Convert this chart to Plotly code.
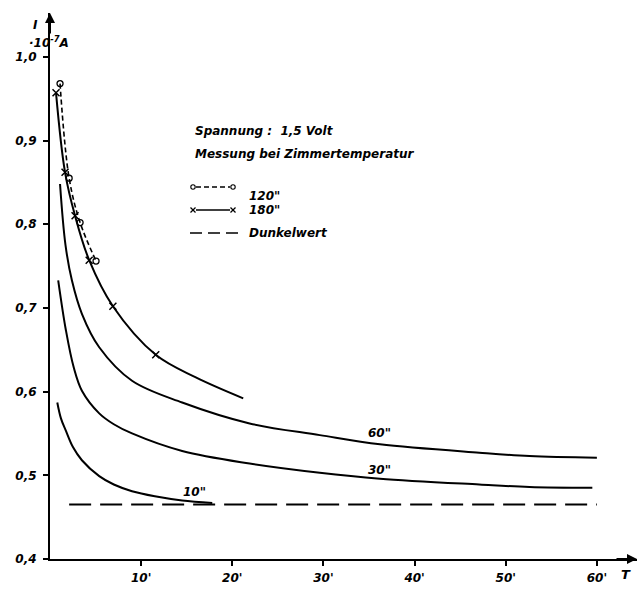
import plotly.graph_objects as go

# ---- data (T in minutes, I in 1e-7 A) ----
T_10 = [0.8, 1.2, 1.75, 2.5, 3.5, 5.4, 7.0, 9.0, 11.5, 14.5, 17.8]
I_10 = [0.587, 0.568, 0.553, 0.534, 0.518, 0.499, 0.489, 0.481, 0.475, 0.470, 0.467]

T_30 = [0.9, 1.75, 2.6, 3.5, 5.4, 7.0, 9.0, 14.5, 21.9, 29.6, 36.2, 47.1, 52.6, 59.5]
I_30 = [0.733, 0.673, 0.629, 0.601, 0.574, 0.561, 0.550, 0.529, 0.514, 0.503, 0.496, 0.489, 0.486, 0.485]

T_60 = [1.1, 1.7, 2.4, 3.5, 5.4, 9.0, 14.5, 21.9, 29.6, 36.2, 47.1, 52.6, 60.0]
I_60 = [0.848, 0.775, 0.733, 0.693, 0.653, 0.613, 0.587, 0.562, 0.548, 0.537, 0.527, 0.523, 0.521]

T_180 = [0.66, 1.65, 2.75, 4.3, 6.9, 11.6, 16.0, 21.2]
I_180 = [0.957, 0.862, 0.810, 0.757, 0.702, 0.644, 0.617, 0.592]
T_180_pts = [0.66, 1.65, 2.75, 4.3, 6.9, 11.6]
I_180_pts = [0.957, 0.862, 0.810, 0.757, 0.702, 0.644]

T_120 = [1.1, 2.1, 3.3, 5.05]
I_120 = [0.968, 0.855, 0.802, 0.756]

T_dark = [2.1, 60.0]
I_dark = [0.465, 0.465]

curve_labels = ['10"', '30"', '60"']
label_T = [15.9, 36.1, 36.2]
label_I = [0.480, 0.506, 0.551]

x_ticks = [10, 20, 30, 40, 50, 60]
x_ticktext = ["10'", "20'", "30'", "40'", "50'", "60'"]
y_ticks = [0.4, 0.5, 0.6, 0.7, 0.8, 0.9, 1.0]
y_ticktext = ["0,4", "0,5", "0,6", "0,7", "0,8", "0,9", "1,0"]

FONT = "DejaVu Sans"
W, H = 639, 589
L, R, T, B = 50, 2, 13, 30
PW, PH = W - L - R, H - T - B


def px(xp):
    return (xp - L) / PW


def py(yp):
    return (H - B - yp) / PH


def it(s):
    return "<b><i>" + s + "</i></b>"


fig = go.Figure()

line_style = dict(color="black", width=2, shape="spline", smoothing=1.0)
for tx, iy in [(T_10, I_10), (T_30, I_30), (T_60, I_60)]:
    fig.add_trace(go.Scatter(x=tx, y=iy, mode="lines", line=line_style,
                             hoverinfo="skip", showlegend=False))

fig.add_trace(go.Scatter(x=T_180, y=I_180, mode="lines", line=line_style,
                         hoverinfo="skip", showlegend=False))
fig.add_trace(go.Scatter(x=T_180_pts, y=I_180_pts, mode="markers",
                         marker=dict(symbol="x-thin", size=7, line=dict(color="black", width=1.5)),
                         hoverinfo="skip", showlegend=False))
fig.add_trace(go.Scatter(x=T_120, y=I_120, mode="lines+markers",
                         line=dict(color="black", width=1.6, dash="5px,3px", shape="spline"),
                         marker=dict(symbol="circle-open", size=6, color="black", line=dict(width=1.3)),
                         hoverinfo="skip", showlegend=False))
fig.add_trace(go.Scatter(x=T_dark, y=I_dark, mode="lines",
                         line=dict(color="black", width=2, dash="22px,9px"),
                         hoverinfo="skip", showlegend=False))

tfont = dict(family=FONT, size=12, color="black")
for txt, xx, yy in zip(curve_labels, label_T, label_I):
    fig.add_annotation(x=xx, y=yy, text=it(txt), showarrow=False, font=tfont)

# text block
fig.add_annotation(x=px(193), y=py(122), xref="paper", yref="paper", xanchor="left",
                   text=it("Spannung :  1,5 Volt"), showarrow=False, font=tfont)
fig.add_annotation(x=px(193), y=py(145), xref="paper", yref="paper", xanchor="left",
                   text=it("Messung bei Zimmertemperatur"), showarrow=False, font=tfont)

# legend (drawn by hand)
leg_rows = [(187, '120"'), (210, '180"'), (233, "Dunkelwert")]
for yy, txt in leg_rows:
    fig.add_annotation(x=px(247), y=py(yy), xref="paper", yref="paper", xanchor="left",
                       text=it(txt), showarrow=False, font=tfont)

shapes = []
y1 = py(187)
shapes.append(dict(type="line", xref="paper", yref="paper", x0=px(196), x1=px(230), y0=y1, y1=y1,
                   line=dict(color="black", width=1.3, dash="5px,3px")))
for cx in (193, 233):
    shapes.append(dict(type="circle", xref="paper", yref="paper",
                       x0=px(cx - 2.2), x1=px(cx + 2.2), y0=py(187 + 2.2), y1=py(187 - 2.2),
                       line=dict(color="black", width=1.1)))
y2 = py(210)
shapes.append(dict(type="line", xref="paper", yref="paper", x0=px(196), x1=px(230), y0=y2, y1=y2,
                   line=dict(color="black", width=1.3)))
for cx in (193, 233):
    for d in (1, -1):
        shapes.append(dict(type="line", xref="paper", yref="paper",
                           x0=px(cx - 2.5), x1=px(cx + 2.5), y0=py(210 - 2.5 * d), y1=py(210 + 2.5 * d),
                           line=dict(color="black", width=1.2)))
y3 = py(233)
shapes.append(dict(type="line", xref="paper", yref="paper", x0=px(190), x1=px(241), y0=y3, y1=y3,
                   line=dict(color="black", width=1.6, dash="12px,6px")))

fig.update_layout(shapes=shapes)

# axis arrows
fig.add_annotation(x=1, y=0, xref="paper", yref="paper", ax=-22, ay=0, text="",
                   showarrow=True, arrowhead=2, arrowsize=1, arrowwidth=2, arrowcolor="black")
fig.add_annotation(x=0, y=1, xref="paper", yref="paper", ax=0, ay=22, text="",
                   showarrow=True, arrowhead=2, arrowsize=1, arrowwidth=2, arrowcolor="black")

# axis titles
fig.add_annotation(x=px(31), y=py(16), xref="paper", yref="paper", text=it("I"),
                   showarrow=False, font=dict(family=FONT, size=12, color="black"))
fig.add_annotation(x=px(27), y=py(32), xref="paper", yref="paper", text=it("·10<sup>-7</sup>A"),
                   showarrow=False, font=dict(family=FONT, size=12, color="black"))
fig.add_annotation(x=px(633), y=py(584), xref="paper", yref="paper", text=it("T"),
                   showarrow=False, font=dict(family=FONT, size=13, color="black"))

fig.update_xaxes(range=[0, 64.4], showline=True, linecolor="black", linewidth=2,
                 ticks="outside", ticklen=5, tickwidth=1.5, tickcolor="black",
                 tickvals=x_ticks, ticktext=[it(t) for t in x_ticktext],
                 tickfont=dict(family=FONT, size=12, color="black"), automargin=False,
                 ticklabelstandoff=2, showgrid=False, zeroline=False, fixedrange=True)
fig.update_yaxes(range=[0.4, 0.4 + PH / 837.0], showline=True, linecolor="black", linewidth=2,
                 ticks="outside", ticklen=5, tickwidth=1.5, tickcolor="black",
                 tickvals=y_ticks, ticktext=[it(t) for t in y_ticktext],
                 tickfont=dict(family=FONT, size=12, color="black"), automargin=False,
                 ticklabelstandoff=4, showgrid=False, zeroline=False, fixedrange=True)

fig.update_layout(width=W, height=H, margin=dict(l=L, r=R, t=T, b=B),
                  plot_bgcolor="white", paper_bgcolor="white", showlegend=False)

fig.write_html("out.html", config={"displayModeBar": False},
               post_script="document.body.style.margin='0px';document.body.style.overflow='hidden';")
